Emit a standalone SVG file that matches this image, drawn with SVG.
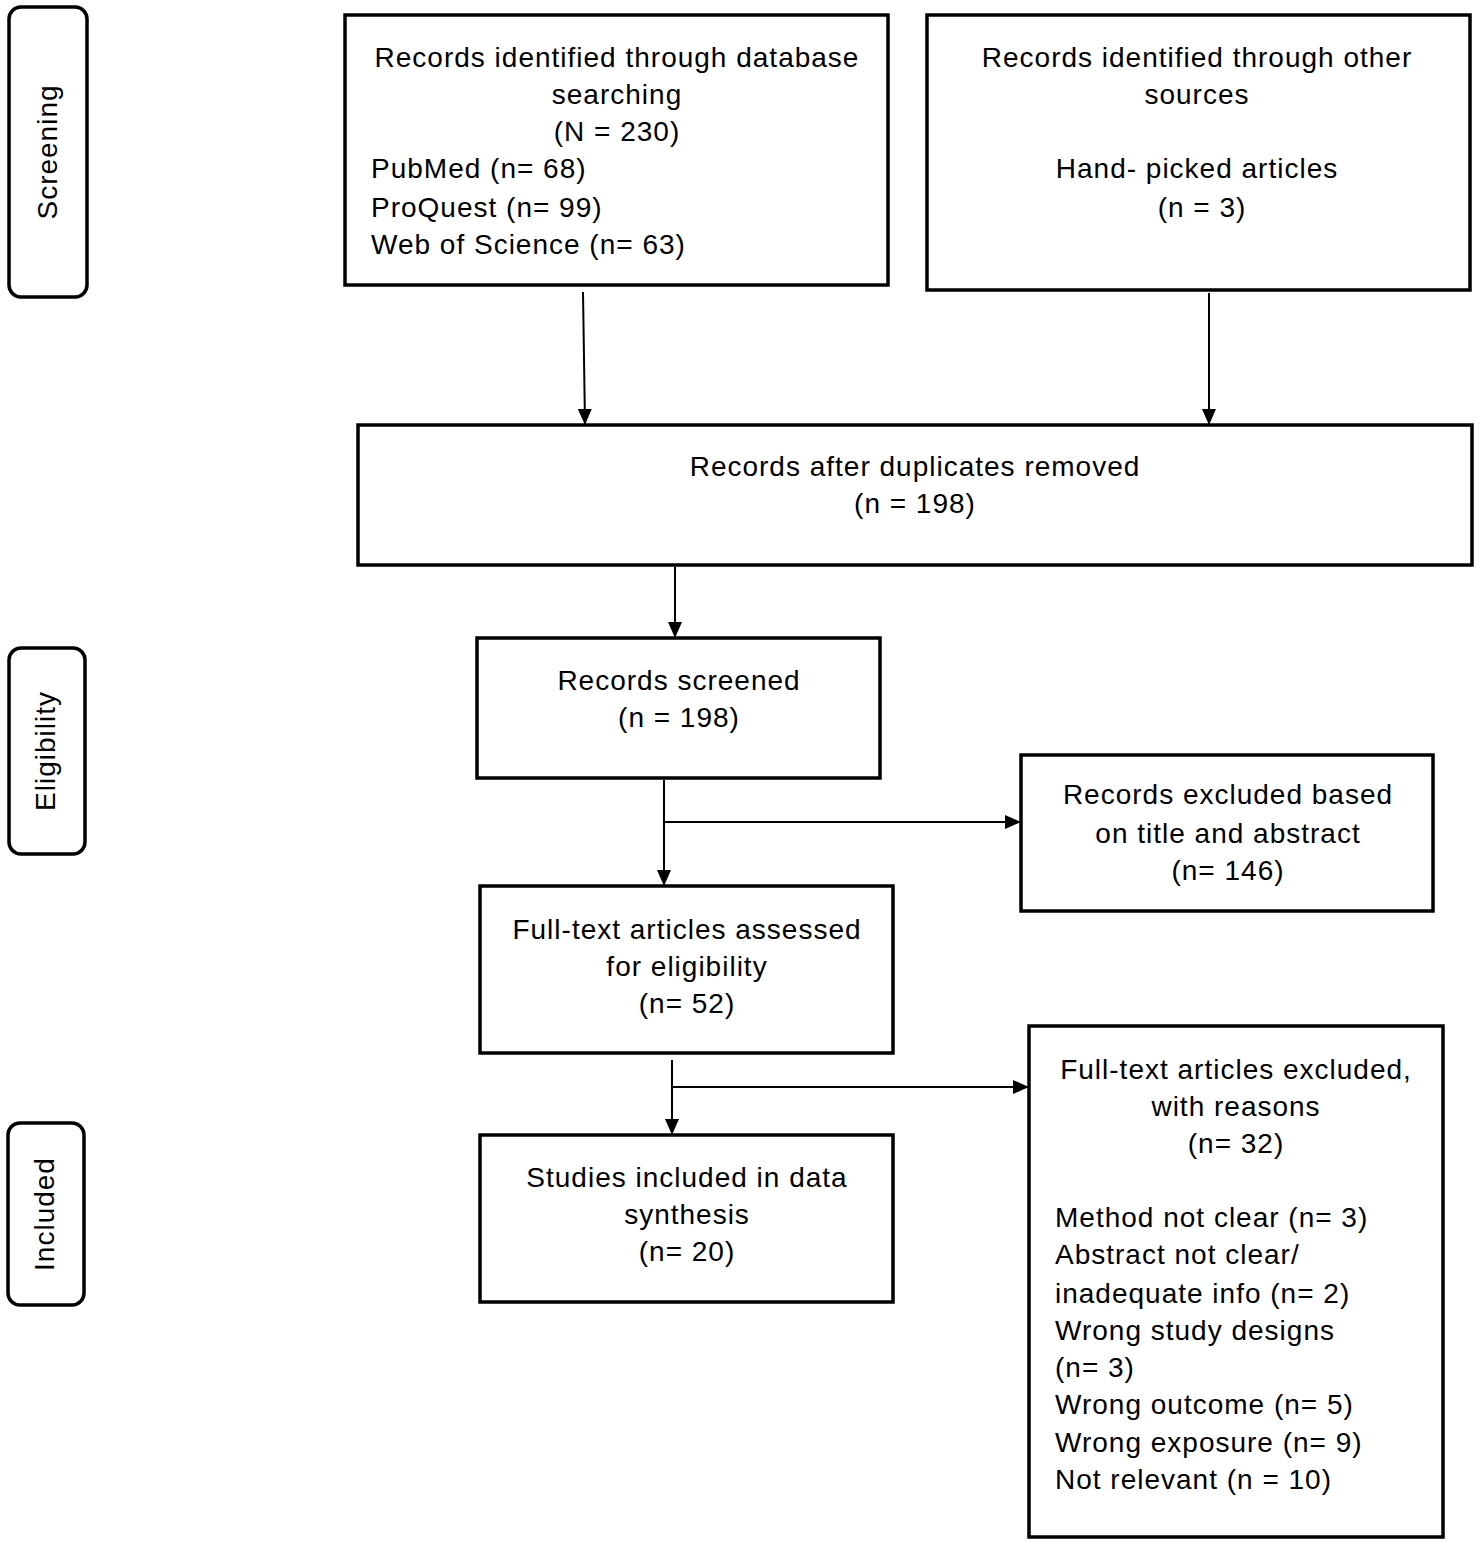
<svg xmlns="http://www.w3.org/2000/svg" width="1480" height="1548" viewBox="0 0 1480 1548">
<defs>
<marker id="ah" markerWidth="16" markerHeight="14" refX="15" refY="7" orient="auto" markerUnits="userSpaceOnUse" viewBox="0 0 16 14">
<path d="M0,0 L16,7 L0,14 Z" fill="#000"/>
</marker>
<style>
.box{fill:#fff;stroke:#000;stroke-width:3.5}
.lab{fill:#fff;stroke:#000;stroke-width:3.5}
.t{font-family:"Liberation Sans",Arial,sans-serif;font-size:28px;letter-spacing:1px;fill:#000}
.c{text-anchor:middle}
.edge{stroke:#000;stroke-width:2;fill:none;marker-end:url(#ah)}
</style>
</defs>
<rect width="1480" height="1548" fill="#fff"/>
<g id="stage-screening">
<rect class="lab" x="9" y="7" width="78" height="290" rx="12"/>
<text class="t c" transform="translate(57,152) rotate(-90)">Screening</text>
</g>
<g id="stage-eligibility">
<rect class="lab" x="9" y="648" width="76" height="206" rx="12"/>
<text class="t c" transform="translate(55,751) rotate(-90)">Eligibility</text>
</g>
<g id="stage-included">
<rect class="lab" x="8" y="1123" width="76" height="182" rx="12"/>
<text class="t c" transform="translate(54,1214) rotate(-90)">Included</text>
</g>
<g id="db-search">
<rect class="box" x="345" y="15" width="543" height="270"/>
<text class="t c" x="617" y="67">Records identified through database</text>
<text class="t c" x="617" y="104">searching</text>
<text class="t c" x="617" y="141">(N = 230)</text>
<text class="t" x="371" y="178">PubMed (n= 68)</text>
<text class="t" x="371" y="217">ProQuest (n= 99)</text>
<text class="t" x="371" y="254">Web of Science (n= 63)</text>
</g>
<g id="other-sources">
<rect class="box" x="927" y="15" width="543" height="275"/>
<text class="t c" x="1197" y="67">Records identified through other</text>
<text class="t c" x="1197" y="104">sources</text>
<text class="t c" x="1197" y="178">Hand- picked articles</text>
<text class="t c" x="1202" y="217">(n = 3)</text>
</g>
<g id="dedup">
<rect class="box" x="358" y="425" width="1114" height="140"/>
<text class="t c" x="915" y="476">Records after duplicates removed</text>
<text class="t c" x="915" y="513">(n = 198)</text>
</g>
<g id="screened">
<rect class="box" x="477" y="638" width="403" height="140"/>
<text class="t c" x="679" y="690">Records screened</text>
<text class="t c" x="679" y="727">(n = 198)</text>
</g>
<g id="excluded-title">
<rect class="box" x="1021" y="755" width="412" height="156"/>
<text class="t c" x="1228" y="804">Records excluded based</text>
<text class="t c" x="1228" y="843">on title and abstract</text>
<text class="t c" x="1228" y="880">(n= 146)</text>
</g>
<g id="fulltext">
<rect class="box" x="480" y="886" width="413" height="167"/>
<text class="t c" x="687" y="939">Full-text articles assessed</text>
<text class="t c" x="687" y="976">for eligibility</text>
<text class="t c" x="687" y="1013">(n= 52)</text>
</g>
<g id="fulltext-excluded">
<rect class="box" x="1029" y="1026" width="414" height="511"/>
<text class="t c" x="1236" y="1079">Full-text articles excluded,</text>
<text class="t c" x="1236" y="1116">with reasons</text>
<text class="t c" x="1236" y="1153">(n= 32)</text>
<text class="t" x="1055" y="1227">Method not clear (n= 3)</text>
<text class="t" x="1055" y="1264">Abstract not clear/</text>
<text class="t" x="1055" y="1303">inadequate info (n= 2)</text>
<text class="t" x="1055" y="1340">Wrong study designs</text>
<text class="t" x="1055" y="1377">(n= 3)</text>
<text class="t" x="1055" y="1414">Wrong outcome (n= 5)</text>
<text class="t" x="1055" y="1452">Wrong exposure (n= 9)</text>
<text class="t" x="1055" y="1489">Not relevant (n = 10)</text>
</g>
<g id="included">
<rect class="box" x="480" y="1135" width="413" height="167"/>
<text class="t c" x="687" y="1187">Studies included in data</text>
<text class="t c" x="687" y="1224">synthesis</text>
<text class="t c" x="687" y="1261">(n= 20)</text>
</g>
<g id="connectors">
<path class="edge" d="M583,292 L585,424"/>
<path class="edge" d="M1209,293 L1209,424"/>
<path class="edge" d="M675,567 L675,637"/>
<path class="edge" d="M664,780 L664,885"/>
<path class="edge" d="M664,822 L1020,822"/>
<path class="edge" d="M672,1060 L672,1134"/>
<path class="edge" d="M672,1087 L1028,1087"/>
</g>
</svg>
